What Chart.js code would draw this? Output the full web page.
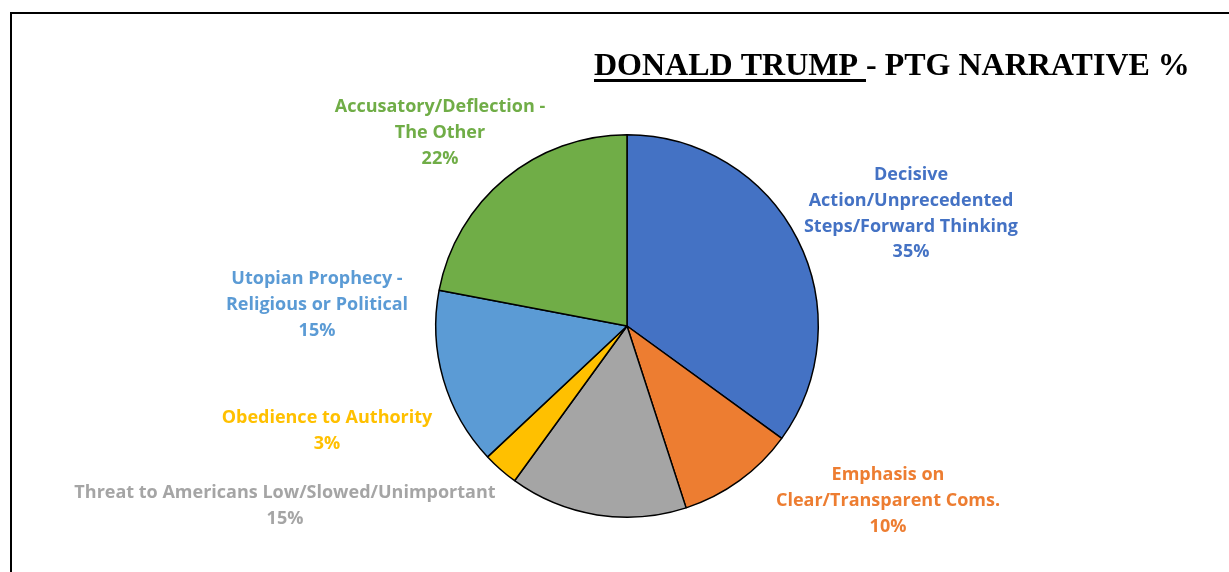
<!DOCTYPE html>
<html>
<head>
<meta charset="utf-8">
<script src="https://cdn.jsdelivr.net/npm/chart.js@4.4.1/dist/chart.umd.min.js"></script>
<style>
  html, body { margin: 0; padding: 0; background: #fff; }
  #wrap { position: relative; width: 1229px; height: 572px; overflow: hidden; }
  #frame { position: absolute; left: 10px; top: 12px; width: 1300px; height: 700px;
           border-left: 2px solid #000; border-top: 2px solid #000; box-sizing: border-box; }
  canvas { position: absolute; left: 0; top: 0; }
</style>
</head>
<body>
<div id="wrap">
  <div id="frame"></div>
  <canvas id="pie" width="1229" height="572"></canvas>
</div>
<script>
// Narrative categories (each entry is one label, split into its printed lines)
const categories = [
  ["Decisive", "Action/Unprecedented", "Steps/Forward Thinking"],
  ["Emphasis on", "Clear/Transparent Coms."],
  ["Threat to Americans Low/Slowed/Unimportant"],
  ["Obedience to Authority"],
  ["Utopian Prophecy -", "Religious or Political"],
  ["Accusatory/Deflection -", "The Other"]
];
// Share of each narrative, in percent
const shares = [35, 10, 15, 3, 15, 22];
// Slice and label colours
const sliceColors = ["#4472C4", "#ED7D31", "#A5A5A5", "#FFC000", "#5B9BD5", "#70AD47"];
const titleMain = "DONALD TRUMP ";
const titleRest = "- PTG NARRATIVE %";

// Label block centres relative to the pie centre (first line centre)
const labelOffsets = [
  [284, -151],
  [261, 149],
  [-342, 167],
  [-300, 92],
  [-310, -47],
  [-187, -219]
];
const LINE_H = 25.7;
const LABEL_FONT = "bold 18px 'Open Sans'";

const dataLabels = {
  id: "dataLabels",
  afterDatasetsDraw(chart) {
    const ctx = chart.ctx;
    const arcs = chart.getDatasetMeta(0).data;
    const cx = arcs[0].x, cy = arcs[0].y;
    ctx.save();
    ctx.font = LABEL_FONT;
    ctx.textAlign = "center";
    ctx.textBaseline = "middle";
    categories.forEach((lines, i) => {
      const all = lines.concat([shares[i] + "%"]);
      const x = cx + labelOffsets[i][0];
      const y0 = cy + labelOffsets[i][1];
      ctx.fillStyle = sliceColors[i];
      all.forEach((t, k) => ctx.fillText(t, x, y0 + k * LINE_H));
    });
    ctx.restore();
  }
};

const titlePlugin = {
  id: "titleText",
  afterDraw(chart) {
    const ctx = chart.ctx;
    ctx.save();
    ctx.font = "bold 32px 'Liberation Serif'";
    ctx.fillStyle = "#000";
    ctx.textAlign = "left";
    ctx.textBaseline = "alphabetic";
    const x = 594, y = 75;
    const w1 = ctx.measureText(titleMain).width;
    ctx.fillText(titleMain, x, y);
    ctx.fillText(titleRest, x + w1, y);
    ctx.fillRect(x, y + 4, w1, 3);
    ctx.restore();
  }
};

new Chart(document.getElementById("pie"), {
  type: "pie",
  data: {
    labels: categories.map(l => l.join(" ")),
    datasets: [{
      data: shares,
      backgroundColor: sliceColors,
      borderColor: "#000",
      borderWidth: 1.5
    }]
  },
  options: {
    responsive: false,
    animation: false,
    rotation: 0,
    layout: { padding: { left: 25, right: 0, top: 134, bottom: 54 } },
    plugins: {
      legend: { display: false },
      tooltip: { enabled: false },
      title: { display: false }
    }
  },
  plugins: [dataLabels, titlePlugin]
});
</script>
</body>
</html>
